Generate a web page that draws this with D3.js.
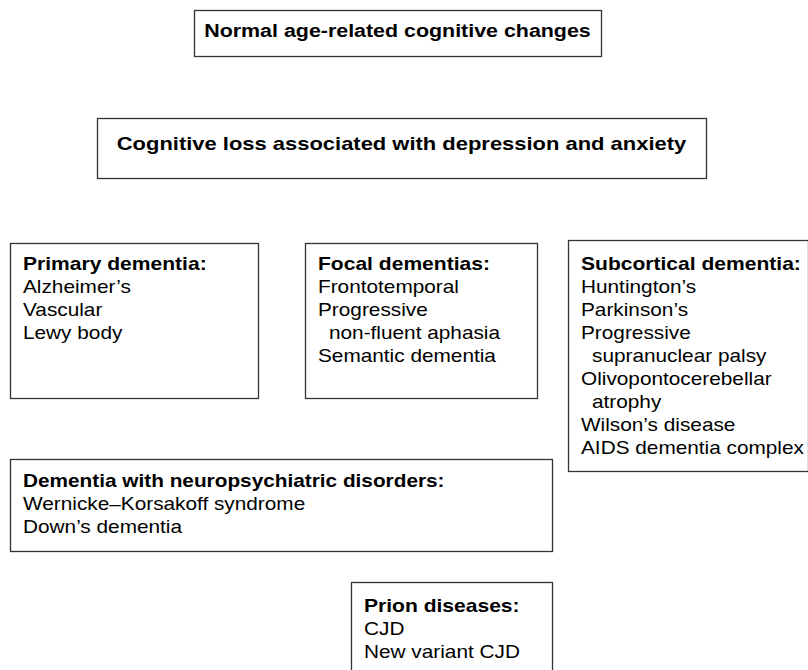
<!DOCTYPE html>
<html>
<head>
<meta charset="utf-8">
<script src="https://cdn.jsdelivr.net/npm/d3@7"></script>
<style>
  html, body { margin: 0; padding: 0; background: #fff; }
  svg { display: block; }
</style>
</head>
<body>
<div id="chart"></div>
<script>
// ---- Data (text content of each box) ----
const titles = [
  "Normal age-related cognitive changes",
  "Cognitive loss associated with depression and anxiety",
  "Primary dementia:",
  "Focal dementias:",
  "Subcortical dementia:",
  "Dementia with neuropsychiatric disorders:",
  "Prion diseases:"
];
const primaryItems = [["Alzheimer\u2019s", 0], ["Vascular", 0], ["Lewy body", 0]];
const focalItems = [["Frontotemporal", 0], ["Progressive", 0], ["non-fluent aphasia", 1], ["Semantic dementia", 0]];
const subcorticalItems = [["Huntington\u2019s", 0], ["Parkinson\u2019s", 0], ["Progressive", 0], ["supranuclear palsy", 1],
  ["Olivopontocerebellar", 0], ["atrophy", 1], ["Wilson\u2019s disease", 0], ["AIDS dementia complex", 0]];
const neuroItems = [["Wernicke\u2013Korsakoff syndrome", 0], ["Down\u2019s dementia", 0]];
const prionItems = [["CJD", 0], ["New variant CJD", 0]];
const itemLists = [[], [], primaryItems, focalItems, subcorticalItems, neuroItems, prionItems];

// ---- Layout (positions / sizes, kept separate from data) ----
const W = 808, H = 670;
const layout = [
  { x: 194, y: 10,  w: 407, h: 46,  align: "middle", ty: 37,  sx: 1.19 },
  { x: 97,  y: 118, w: 609, h: 60,  align: "middle", ty: 150, sx: 1.22 },
  { x: 10,  y: 243, w: 248, h: 155, align: "start",  ty: 270, sx: 1.17 },
  { x: 305, y: 243, w: 232, h: 155, align: "start",  ty: 270, sx: 1.17 },
  { x: 568, y: 240, w: 240, h: 231, align: "start",  ty: 270, sx: 1.17 },
  { x: 10,  y: 459, w: 542, h: 92,  align: "start",  ty: 487, sx: 1.155 },
  { x: 351, y: 582, w: 201, h: 95,  align: "start",  ty: 612, sx: 1.17 }
];
const padX = 13, lineH = 23, indent = 11, fontSize = 18;
const sxReg = 1.155;

const svg = d3.select("#chart").append("svg")
  .attr("width", W).attr("height", H)
  .style("font-family", "'Liberation Sans', Arial, Helvetica, sans-serif");

const boxes = svg.selectAll("g.box")
  .data(titles.map((t, i) => ({ title: t, items: itemLists[i], L: layout[i] })))
  .join("g").attr("class", "box");

boxes.append("rect")
  .attr("x", d => d.L.x + 0.5).attr("y", d => d.L.y + 0.5)
  .attr("width", d => d.L.w).attr("height", d => d.L.h)
  .attr("fill", "#fff").attr("stroke", "#333").attr("stroke-width", 1.3);

boxes.append("text")
  .attr("transform", d => {
    const x = d.L.align === "middle" ? d.L.x + d.L.w / 2 : d.L.x + padX;
    return `translate(${x},${d.L.ty}) scale(${d.L.sx},1)`;
  })
  .attr("text-anchor", d => d.L.align)
  .attr("font-weight", "bold").attr("font-size", fontSize).attr("fill", "#000")
  .text(d => d.title);

boxes.each(function(d) {
  d3.select(this).selectAll("text.item")
    .data(d.items)
    .join("text").attr("class", "item")
    .attr("transform", (it, j) =>
      `translate(${d.L.x + padX + it[1] * indent},${d.L.ty + (j + 1) * lineH}) scale(${sxReg},1)`)
    .attr("font-size", fontSize).attr("fill", "#000")
    .text(it => it[0]);
});
</script>
</body>
</html>
